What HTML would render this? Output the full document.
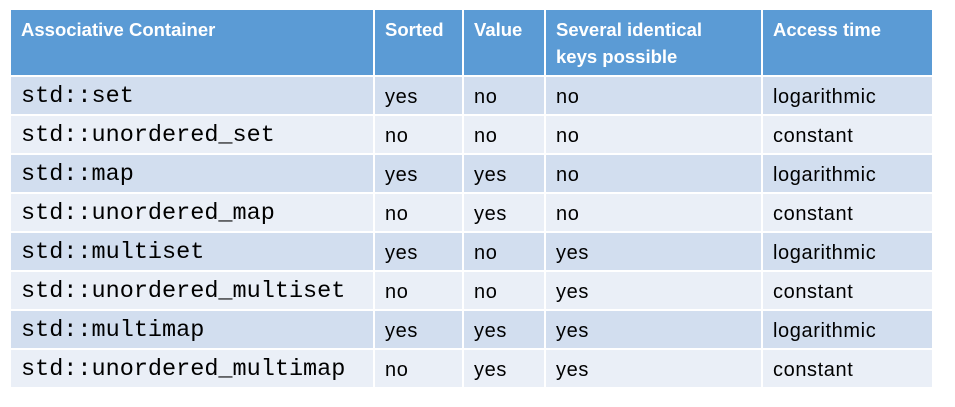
<!DOCTYPE html>
<html><head><meta charset="utf-8"><style>
body{margin:0;width:955px;height:407px;background:#fff;position:relative;overflow:hidden}
.c{position:absolute;box-sizing:border-box;padding-left:10px;font-family:"Liberation Sans",sans-serif;font-size:20px;letter-spacing:0.6px;color:#000;white-space:nowrap}
.h{background:#5b9bd5;color:#fff;font-weight:bold;padding-top:6px;line-height:27px;font-size:18.5px;letter-spacing:0}
.m{font-family:"Liberation Mono",monospace;font-size:23.5px;letter-spacing:0}
.o{background:#d2deef}.e{background:#eaeff7}
</style></head><body>
<div class="c h" style="left:11px;top:10px;width:362px;height:65px">Associative Container</div>
<div class="c h" style="left:375px;top:10px;width:87px;height:65px">Sorted</div>
<div class="c h" style="left:464px;top:10px;width:80px;height:65px">Value</div>
<div class="c h" style="left:546px;top:10px;width:215px;height:65px">Several identical<br>keys possible</div>
<div class="c h" style="left:763px;top:10px;width:169px;height:65px">Access time</div>
<script>
var rows=[["std::set","yes","no","no","logarithmic"],["std::unordered_set","no","no","no","constant"],["std::map","yes","yes","no","logarithmic"],["std::unordered_map","no","yes","no","constant"],["std::multiset","yes","no","yes","logarithmic"],["std::unordered_multiset","no","no","yes","constant"],["std::multimap","yes","yes","yes","logarithmic"],["std::unordered_multimap","no","yes","yes","constant"]];
var cols=[[11,362],[375,87],[464,80],[546,215],[763,169]];
var h="";
rows.forEach(function(r,i){var t=77+39*i;r.forEach(function(v,j){h+='<div class="c '+(i%2?'e':'o')+(j==0?' m':'')+'" style="left:'+cols[j][0]+'px;top:'+t+'px;width:'+cols[j][1]+'px;height:37px;line-height:40px">'+v+'</div>';});});
document.write(h);
</script>
</body></html>
